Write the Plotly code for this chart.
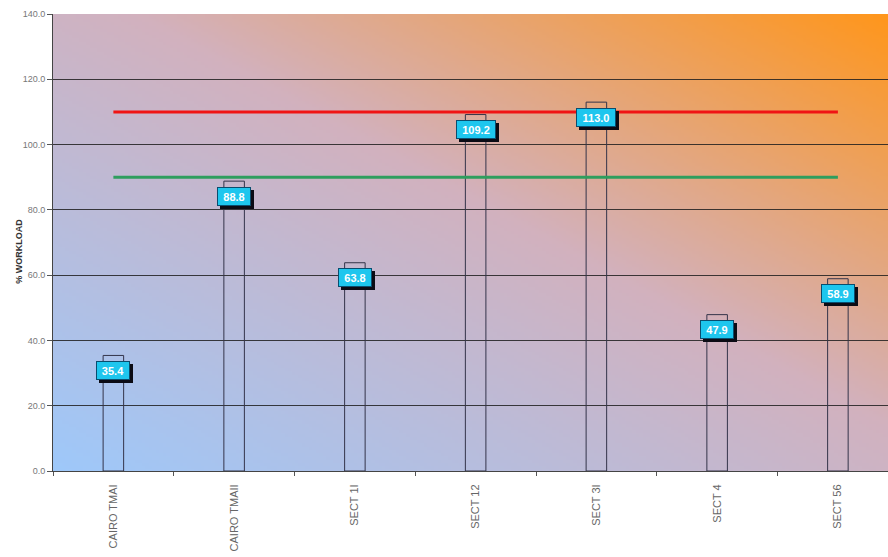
import base64
import struct
import zlib

import numpy as np
import plotly.graph_objects as go

# Workload per sector (%)
sectors = ["CAIRO TMAI", "CAIRO TMAII", "SECT 1I", "SECT 12", "SECT 3I", "SECT 4", "SECT 56"]
workload = [35.4, 88.8, 63.8, 109.2, 113.0, 47.9, 58.9]

# Reference thresholds
upper_limit = [110.0] * len(sectors)
lower_limit = [90.0] * len(sectors)

y_ticks = [0, 20, 40, 60, 80, 100, 120, 140]

FONT = "Liberation Sans, Arial"


def gradient_png(w=240, h=140):
    """Diagonal gradient: light blue bottom-left -> mauve -> orange top-right."""
    xs = np.linspace(0, 1, w)[None, :]
    ys = np.linspace(1, 0, h)[:, None]
    t = (xs + ys) / 2.0
    stops = np.array([0.0, 0.55, 1.0])
    cols = np.array([[158, 200, 250], [210, 177, 190], [255, 150, 28]], dtype=float)
    img = np.zeros((h, w, 3), dtype=np.uint8)
    for c in range(3):
        img[:, :, c] = np.interp(t, stops, cols[:, c]).round().astype(np.uint8)
    raw = b"".join(b"\x00" + img[r].tobytes() for r in range(h))

    def chunk(tag, data):
        body = tag + data
        return struct.pack(">I", len(data)) + body + struct.pack(">I", zlib.crc32(body) & 0xFFFFFFFF)

    png = b"\x89PNG\r\n\x1a\n"
    png += chunk(b"IHDR", struct.pack(">IIBBBBB", w, h, 8, 2, 0, 0, 0))
    png += chunk(b"IDAT", zlib.compress(raw, 9))
    png += chunk(b"IEND", b"")
    return "data:image/png;base64," + base64.b64encode(png).decode()


fig = go.Figure()

fig.add_trace(go.Bar(
    x=sectors, y=workload, width=0.17,
    marker=dict(color="rgba(0,0,0,0)", line=dict(color="#34344a", width=1)),
    showlegend=False, hoverinfo="skip",
))

fig.add_trace(go.Scatter(
    x=sectors, y=upper_limit, mode="lines",
    line=dict(color="#f01414", width=3), showlegend=False,
))
fig.add_trace(go.Scatter(
    x=sectors, y=lower_limit, mode="lines",
    line=dict(color="#2e9e5e", width=3), showlegend=False,
))

# Value callouts: blank dark box as drop shadow, then the cyan label on top
annotations = []
for s, v in zip(sectors, workload):
    box_w = 30 if v < 100 else 36
    annotations.append(dict(
        x=s, y=v, text=" ", showarrow=False, xshift=3, yshift=-18,
        width=box_w, height=15,
        bgcolor="#0b0b14", bordercolor="#0b0b14", borderwidth=1, borderpad=1,
    ))
    annotations.append(dict(
        x=s, y=v, text=f"<b>{v:.1f}</b>", showarrow=False, yshift=-15,
        width=box_w, height=15,
        bgcolor="#1ec6ee", bordercolor="#0a4d6e", borderwidth=1, borderpad=1,
        font=dict(family=FONT, size=11, color="white"),
    ))

# Y axis title placed beside the tick labels
annotations.append(dict(
    text="<b>% WORKLOAD</b>", xref="paper", yref="paper", x=0, y=0.48,
    xshift=-34, xanchor="center", yanchor="middle", textangle=-90, showarrow=False,
    font=dict(family=FONT, size=9, color="#333"),
))

fig.update_layout(
    width=888, height=557,
    margin=dict(l=53, r=0, t=14, b=86),
    paper_bgcolor="white",
    plot_bgcolor="rgba(0,0,0,0)",
    annotations=annotations,
    images=[dict(
        source=gradient_png(), xref="paper", yref="paper",
        x=0, y=1, sizex=1, sizey=1, xanchor="left", yanchor="top",
        sizing="stretch", layer="below",
    )],
    xaxis=dict(
        type="category", range=[-0.5, 6.415], automargin=False,
        tickangle=-90, tickson="boundaries", ticks="outside", ticklen=4,
        ticklabelstandoff=8,
        tickcolor="#555", showgrid=False, showline=True, linecolor="#444", linewidth=1,
        tickfont=dict(family=FONT, size=11, color="#666"),
    ),
    yaxis=dict(
        range=[0, 140], tickvals=y_ticks, tickformat=".1f", automargin=False,
        ticks="outside", ticklen=5, tickcolor="#555",
        showline=True, linecolor="#444", linewidth=1,
        showgrid=True, gridcolor="rgba(30,30,30,0.85)", gridwidth=1,
        zeroline=False,
        tickfont=dict(family=FONT, size=9, color="#777"),
    ),
)

fig.write_html("out.html")
